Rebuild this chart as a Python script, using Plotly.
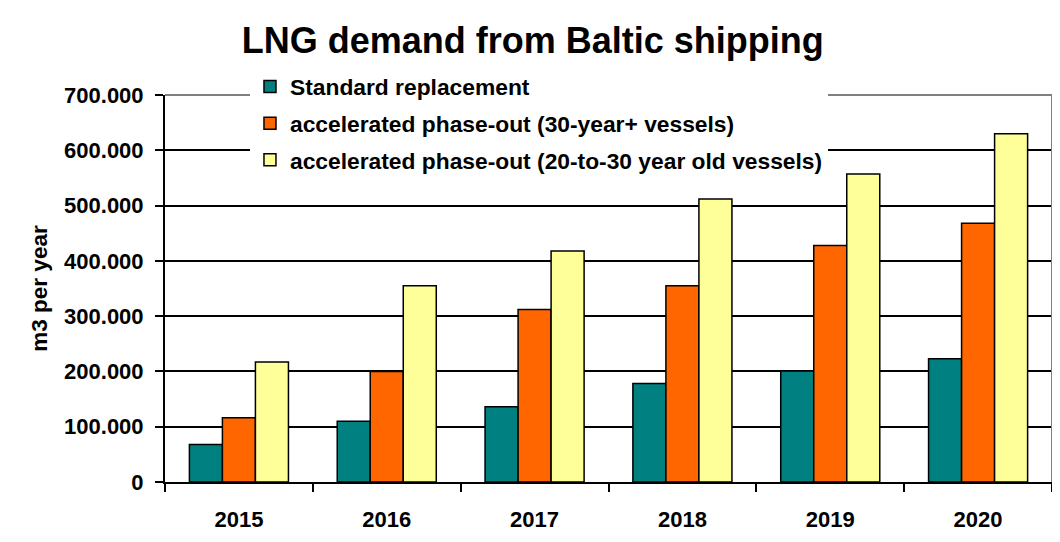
import plotly.graph_objects as go

years = ["2015", "2016", "2017", "2018", "2019", "2020"]
standard = [68000, 110000, 136000, 178000, 201000, 223000]
accel_30 = [116000, 200000, 312000, 355000, 428000, 468000]
accel_20_30 = [217000, 355000, 418000, 512000, 557000, 630000]
y_ticks = [0, 100000, 200000, 300000, 400000, 500000, 600000, 700000]

names = ["Standard replacement",
         "accelerated phase-out (30-year+ vessels)",
         "accelerated phase-out (20-to-30 year old vessels)"]
colors = ["#008080", "#FF6600", "#FFFF99"]
series = [standard, accel_30, accel_20_30]

FONT = "Liberation Sans, Arial, sans-serif"

fig = go.Figure()
for i, (n, c, s) in enumerate(zip(names, colors, series)):
    fig.add_trace(go.Bar(
        x=years, y=s, name=n, legendgroup=str(i),
        marker=dict(color=c, line=dict(color="black", width=1.5)),
    ))

fig.update_layout(
    width=1060, height=542,
    margin=dict(l=157, r=16, t=87, b=68, autoexpand=False),
    paper_bgcolor="white", plot_bgcolor="white",
    separators=",.",
    barmode="group", bargap=0.33, bargroupgap=0,
    title=dict(text="LNG demand from Baltic shipping",
               x=0.495, xanchor="center", y=0.941, yanchor="middle",
               font=dict(family=FONT, size=36, color="black", weight="bold")),
    font=dict(family=FONT, color="black"),
    legend=dict(x=0.0958, y=1.077, xanchor="left", yanchor="top",
                bgcolor="white", borderwidth=0,
                font=dict(family=FONT, size=22.8, color="black", weight="bold"),
                traceorder="grouped", tracegroupgap=4),
    showlegend=True,
)
fig.update_xaxes(
    type="category", showline=True, linecolor="black", linewidth=2,
    ticks="outside", tickson="boundaries", ticklen=8, tickwidth=2, tickcolor="black",
    tickfont=dict(family=FONT, size=22, color="black", weight="bold"),
    ticklabelstandoff=17,
    showgrid=False, automargin=False,
)
fig.update_yaxes(
    range=[0, 700000], tickvals=y_ticks, tickformat=",d",
    showline=True, linecolor="black", linewidth=2,
    ticks="outside", ticklen=8, tickwidth=2, tickcolor="black",
    tickfont=dict(family=FONT, size=22, color="black", weight="bold"),
    ticklabelstandoff=7,
    showgrid=True, gridcolor="black", gridwidth=1.5,
    zeroline=False, automargin=False,
    title=dict(text="m3 per year", font=dict(family=FONT, size=22.5, color="black", weight="bold"),
               standoff=10),
)

# gray top and right frame edges
fig.add_shape(type="line", xref="paper", yref="paper", x0=0, x1=1, y0=1, y1=1,
              line=dict(color="#808080", width=2), layer="above")
fig.add_shape(type="line", xref="paper", yref="paper", x0=1, x1=1, y0=0, y1=1,
              line=dict(color="#808080", width=2), layer="above")

fig.write_html("out.html")
